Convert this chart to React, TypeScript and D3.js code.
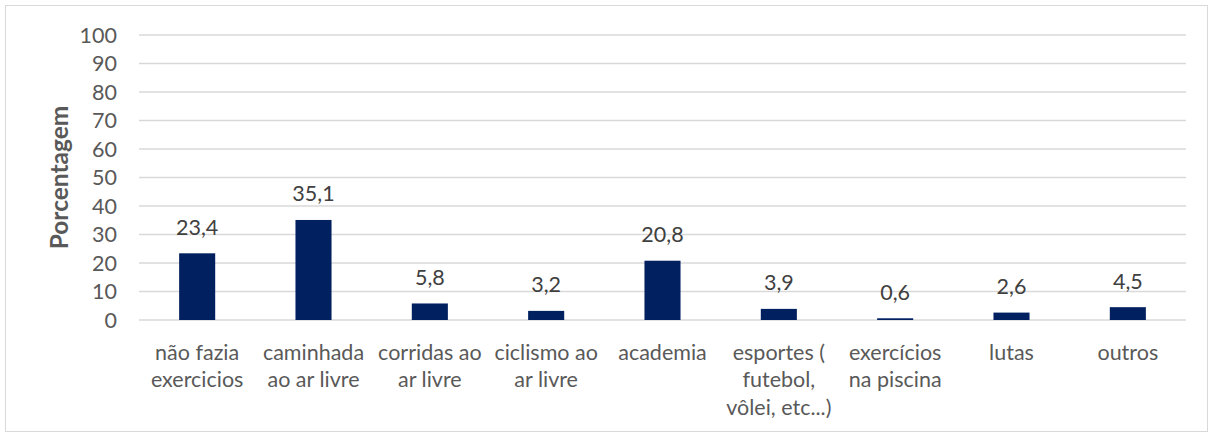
import React from "react";
import * as d3 from "d3";

const categories: string[][] = [
  ["não fazia", "exercicios"],
  ["caminhada", "ao ar livre"],
  ["corridas ao", "ar livre"],
  ["ciclismo ao", "ar livre"],
  ["academia"],
  ["esportes (", "futebol,", "vôlei, etc...)"],
  ["exercícios", "na piscina"],
  ["lutas"],
  ["outros"],
];
const values: number[] = [23.4, 35.1, 5.8, 3.2, 20.8, 3.9, 0.6, 2.6, 4.5];
const yTicks: number[] = [0, 10, 20, 30, 40, 50, 60, 70, 80, 90, 100];
const yTitle = "Porcentagem";

const W = 1214;
const H = 437;
const FONT = "Lato, 'Open Sans', sans-serif";

export default function App() {
  const left = 139, right = 1186, top = 35, bottom = 320;
  const x = d3.scaleBand<number>().domain(d3.range(values.length)).range([left, right]).paddingInner(0.69).paddingOuter(0.345);
  const y = d3.scaleLinear().domain([0, 100]).range([bottom, top]);
  const fmt = (v: number) => v.toFixed(1).replace(".", ",");
  return (
    <svg width={W} height={H} style={{ position: "absolute", left: 0, top: 0 }} fontFamily={FONT}>
      <rect x={0} y={0} width={W} height={H} fill="#fff" />
      <rect x={5.5} y={5.5} width={1202} height={426} fill="none" stroke="#d9d9d9" strokeWidth={1} />
      {yTicks.map((t) => (
        <g key={t}>
          <line x1={left} x2={right} y1={y(t)} y2={y(t)} stroke="#d9d9d9" strokeWidth={1.3} />
          <text x={117} y={y(t)} dy="0.35em" textAnchor="end" fontSize={21.5} fill="#595959">{t}</text>
        </g>
      ))}
      <text transform={`translate(59,${(top + bottom) / 2}) rotate(-90)`} dy="0.35em" textAnchor="middle" fontSize={24.5} fontWeight="bold" fill="#595959">{yTitle}</text>
      {values.map((v, i) => {
        const bx = x(i)!;
        const cx = bx + x.bandwidth() / 2;
        return (
          <g key={i}>
            <rect x={bx} y={y(v)} width={x.bandwidth()} height={bottom - y(v)} fill="#002060" />
            <text x={cx} y={y(v) - 26} dy="0.35em" textAnchor="middle" fontSize={21.5} fill="#404040">{fmt(v)}</text>
            {categories[i].map((line, j) => (
              <text key={j} x={cx} y={352 + j * 27.5} dy="0.35em" textAnchor="middle" fontSize={21.5} fill="#595959">{line}</text>
            ))}
          </g>
        );
      })}
    </svg>
  );
}
